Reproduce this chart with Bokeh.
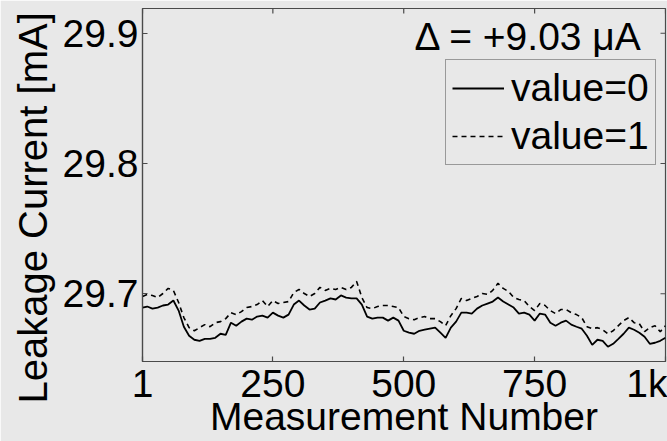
import math
from bokeh.plotting import figure
from bokeh.models import (Label, Legend, LegendItem, FixedTicker, LinearAxis,
                          Range1d, Title)
from bokeh.embed import file_html
from bokeh.resources import INLINE

# ---- data ----
measurement = [1] + list(range(10, 1001, 10))

value0 = [29.6894, 29.6902, 29.6886, 29.6894, 29.6910, 29.6917, 29.6948, 29.6871,
          29.6747, 29.6678, 29.6647, 29.6639, 29.6654, 29.6654, 29.6662, 29.6693,
          29.6685, 29.6778, 29.6755, 29.6786, 29.6809, 29.6801, 29.6825, 29.6832,
          29.6817, 29.6855, 29.6832, 29.6817, 29.6840, 29.6917, 29.6948, 29.6910,
          29.6879, 29.6886, 29.6933, 29.6948, 29.6964, 29.6956, 29.6987, 29.6971,
          29.6964, 29.6964, 29.6917, 29.6825, 29.6809, 29.6817, 29.6817, 29.6794,
          29.6817, 29.6794, 29.6716, 29.6701, 29.6693, 29.6716, 29.6724, 29.6732,
          29.6740, 29.6701, 29.6662, 29.6740, 29.6786, 29.6855, 29.6855, 29.6848,
          29.6886, 29.6910, 29.6925, 29.6940, 29.6971, 29.6940, 29.6917, 29.6894,
          29.6848, 29.6855, 29.6840, 29.6794, 29.6848, 29.6840, 29.6778, 29.6755,
          29.6778, 29.6794, 29.6763, 29.6747, 29.6732, 29.6678, 29.6608, 29.6647,
          29.6639, 29.6593, 29.6616, 29.6654, 29.6693, 29.6740, 29.6724, 29.6701,
          29.6670, 29.6616, 29.6624, 29.6639, 29.6662]

value1 = [29.6979, 29.6995, 29.6987, 29.6971, 29.7002, 29.7041, 29.7026, 29.6933,
          29.6817, 29.6740, 29.6716, 29.6740, 29.6763, 29.6747, 29.6778, 29.6786,
          29.6809, 29.6855, 29.6840, 29.6863, 29.6894, 29.6902, 29.6917, 29.6948,
          29.6902, 29.6948, 29.6925, 29.6933, 29.6940, 29.7010, 29.7033, 29.7002,
          29.6979, 29.7002, 29.7049, 29.7026, 29.7041, 29.7033, 29.7049, 29.7033,
          29.7049, 29.7095, 29.6971, 29.6894, 29.6886, 29.6902, 29.6910, 29.6910,
          29.6902, 29.6894, 29.6825, 29.6809, 29.6801, 29.6817, 29.6825, 29.6809,
          29.6809, 29.6786, 29.6755, 29.6832, 29.6886, 29.6964, 29.6948, 29.6964,
          29.6979, 29.7002, 29.6995, 29.7026, 29.7080, 29.7041, 29.7018, 29.6971,
          29.6956, 29.6948, 29.6902, 29.6871, 29.6925, 29.6910, 29.6871, 29.6848,
          29.6879, 29.6879, 29.6855, 29.6840, 29.6817, 29.6747, 29.6732, 29.6740,
          29.6724, 29.6693, 29.6716, 29.6755, 29.6794, 29.6817, 29.6778, 29.6770,
          29.6709, 29.6740, 29.6755, 29.6709, 29.6755]

x_ticks = [1, 250, 500, 750, 1000]
x_tick_labels = ["1", "250", "500", "750", "1k"]
y_ticks = [29.7, 29.8, 29.9]
series_labels = ["value=0", "value=1"]
delta_text = "\u0394 = +9.03 \u03bcA"
x_title = "Measurement Number"
y_title = "Leakage Current [mA]"

X_LO, X_HI = 1, 1000
Y_LO, Y_HI = 29.648, 29.919

BG = "#e8e8e8"
AX = "#4a4a4a"
FONT = "Liberation Sans"
FS = "39px"

p = figure(width=667, height=441, output_backend="svg", toolbar_location=None,
           x_range=Range1d(X_LO, X_HI), y_range=Range1d(Y_LO, Y_HI),
           min_border_left=142, min_border_right=2, min_border_top=8,
           min_border_bottom=80, x_axis_location=None, y_axis_location=None)
p.background_fill_color = BG
p.border_fill_color = BG
p.outline_line_color = AX
p.outline_line_width = 1.2
p.grid.visible = False


def style_axis(ax):
    ax.axis_line_color = AX
    ax.axis_line_width = 1.2
    ax.major_tick_line_color = AX
    ax.major_tick_line_width = 1.2
    ax.major_tick_in = 5
    ax.major_tick_out = 0
    ax.minor_tick_in = 0
    ax.minor_tick_out = 0
    ax.major_label_text_font = FONT
    ax.major_label_text_color = "black"
    ax.major_label_text_font_size = FS
    ax.major_label_text_line_height = 1.0


xb = LinearAxis(ticker=FixedTicker(ticks=x_ticks),
                major_label_overrides={t: l for t, l in zip(x_ticks, x_tick_labels)})
style_axis(xb)
xb.major_label_standoff = 0
xb.axis_label = x_title
xb.axis_label_text_font = FONT
xb.axis_label_text_font_size = FS
xb.axis_label_text_font_style = "normal"
xb.axis_label_text_color = "black"
xb.axis_label_text_line_height = 1.0
xb.axis_label_standoff = -13
p.add_layout(xb, "below")

yl = LinearAxis(ticker=FixedTicker(ticks=y_ticks))
style_axis(yl)
yl.major_label_standoff = 4
p.add_layout(yl, "left")

# y title, shifted down as in the reference
p.add_layout(Title(text=y_title, align="left", offset=-42, standoff=10,
                   text_font=FONT, text_font_size="40px",
                   text_font_style="normal", text_color="black"), "left")

# inward ticks on the top and right edges of the box (outer half clipped)
p.scatter(x_ticks, [Y_HI] * len(x_ticks), marker="dash", size=10,
          angle=math.pi / 2, line_color=AX, line_width=1.2)
p.scatter([X_HI] * len(y_ticks), y_ticks, marker="dash", size=10,
          line_color=AX, line_width=1.2)

r0 = p.line(measurement, value0, line_color="black", line_width=1.8)
r1 = p.line(measurement, value1, line_color="black", line_width=1.6, line_dash="5 4")

legend = Legend(items=[LegendItem(label=series_labels[0], renderers=[r0]),
                       LegendItem(label=series_labels[1], renderers=[r1])],
                location=(303, 196))
legend.label_text_font = FONT
legend.label_text_font_size = FS
legend.label_text_color = "black"
legend.glyph_width = 52
legend.glyph_height = 44
legend.label_height = 44
legend.label_standoff = 7
legend.spacing = 4
legend.padding = 6
legend.margin = 0
legend.background_fill_color = BG
legend.background_fill_alpha = 1
legend.border_line_color = AX
legend.border_line_width = 1.2
p.add_layout(legend)

p.add_layout(Label(x=957, y=29.8975, text=delta_text, text_align="right",
                   text_baseline="alphabetic", text_font=FONT,
                   text_font_size=FS, text_color="black"))

open("out.html", "w").write(file_html(p, INLINE))
